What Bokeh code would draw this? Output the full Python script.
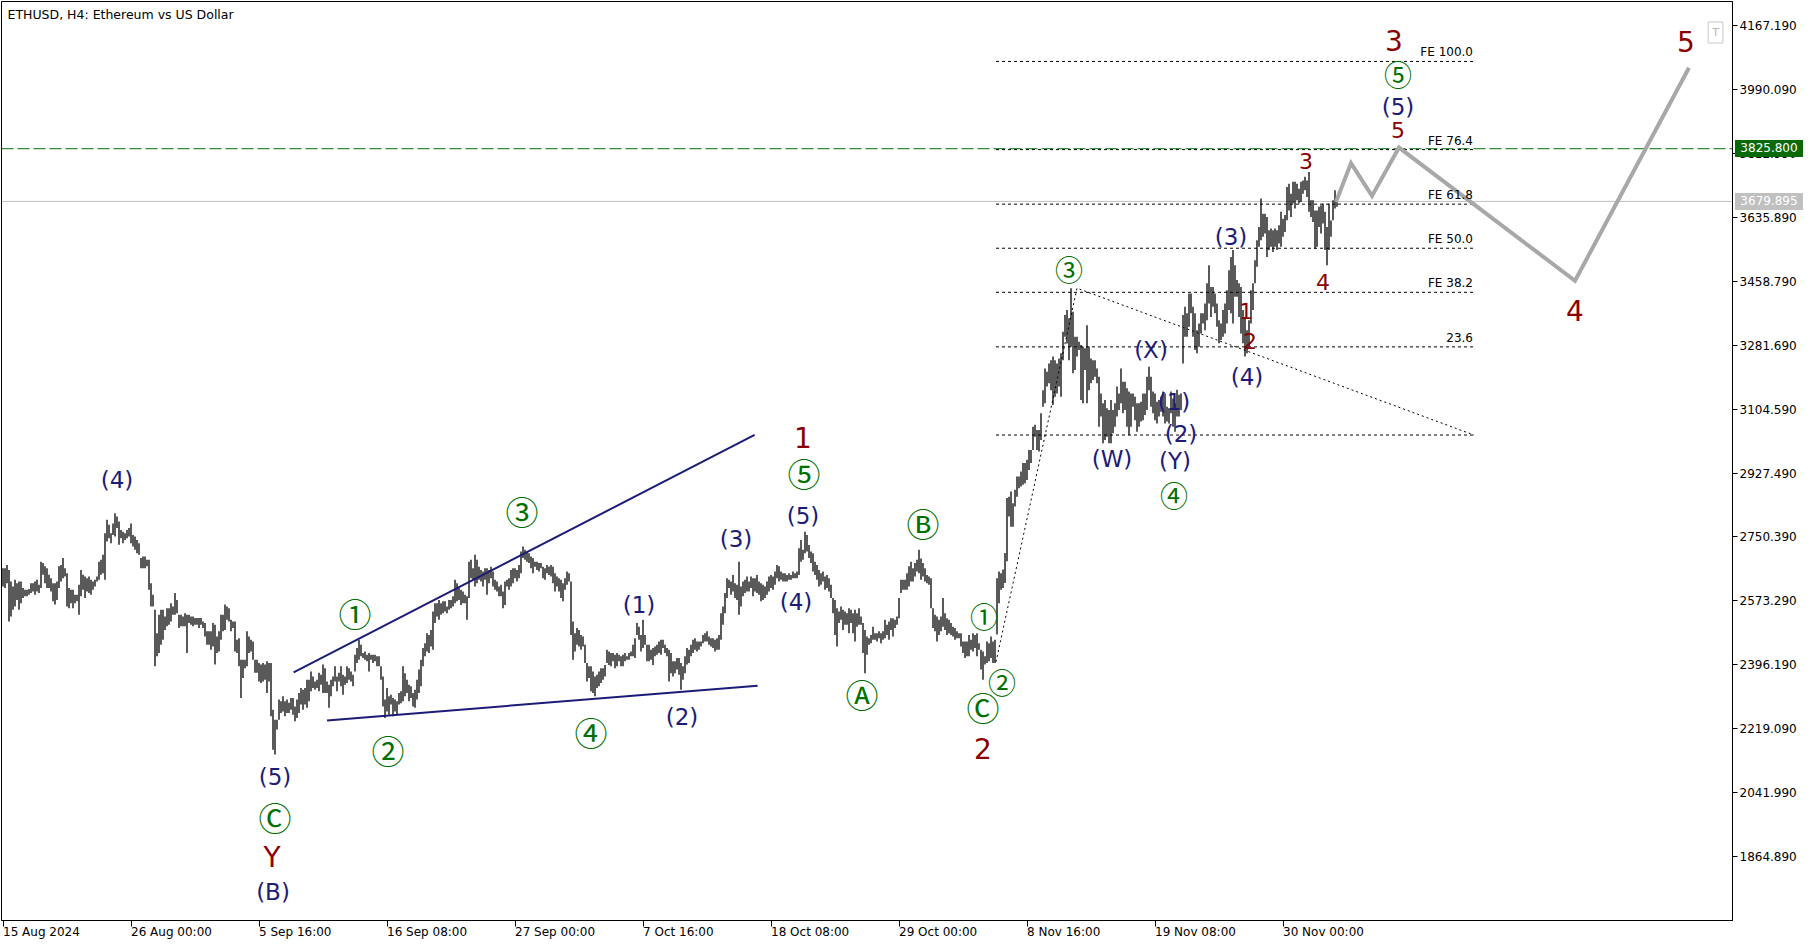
from bokeh.plotting import figure
from bokeh.models import (Range1d, FixedTicker, PrintfTickFormatter, Span, Label, LabelSet,
                          ColumnDataSource, Div)
from bokeh.layouts import column
from bokeh.core.properties import value
from bokeh.embed import file_html
from bokeh.resources import INLINE

# ---------------- data (ETHUSD H4) ----------------
title_text = "ETHUSD, H4:  Ethereum vs US Dollar"

bar_high = [
    2664,2664,2673,2659,2627,2613,2632,2622,2627,2627,
    2609,2604,2604,2606,2622,2622,2627,2632,2618,2682,
    2678,2669,2664,2646,2636,2622,2622,2627,2669,2673,
    2692,2664,2650,2609,2604,2604,2590,2590,2618,2659,
    2646,2641,2636,2641,2632,2627,2632,2641,2682,2687,
    2701,2761,2798,2784,2761,2788,2816,2807,2793,2770,
    2765,2761,2770,2775,2788,2756,2752,2742,2733,2692,
    2696,2696,2687,2687,2622,2590,2549,2484,2535,2549,
    2549,2530,2553,2553,2567,2558,2595,2576,2535,2535,
    2530,2539,2535,2535,2530,2530,2526,2526,2526,2526,
    2516,2512,2489,2489,2489,2512,2507,2475,2489,2535,
    2535,2563,2558,2553,2521,2516,2516,2466,2470,2410,
    2410,2410,2489,2475,2466,2461,2410,2410,2401,2397,
    2401,2397,2406,2401,2401,2272,2244,2244,2300,2295,
    2309,2295,2300,2291,2304,2304,2281,2300,2318,2332,
    2327,2332,2355,2355,2378,2364,2350,2355,2374,2369,
    2397,2387,2350,2341,2355,2364,2392,2364,2374,
    2392,2369,2364,2392,2387,2378,2369,2424,2443,2466,
    2452,2429,2433,2424,2429,2424,2424,2424,2420,2420,
    2392,2364,2300,2332,2309,2313,2304,2300,2295,2318,
    2323,2392,2373,2355,2341,2337,2318,2327,2355,2383,
    2410,2443,2456,2484,2479,2493,2544,2567,2567,2576,
    2567,2572,2572,2558,2576,2576,2586,2632,2622,2609,
    2604,2599,2590,2586,2682,2687,2664,2701,2687,2668,
    2659,2655,2664,2664,2659,2668,2655,2632,2627,2613,
    2618,2599,2627,2632,2636,2659,2664,2664,2659,2673,
    2710,2724,2715,2710,2705,2696,2692,2682,2682,2678,
    2678,2668,2664,2673,2668,2673,2668,2650,2641,2636,
    2632,2622,2636,2655,2650,2627,2516,2484,2498,2493,
    2479,2475,2452,2401,2392,2392,2378,2364,2369,2378,
    2387,2387,2396,2438,2433,2429,2429,2424,2429,2424,
    2420,2424,2429,2420,2429,2433,2452,2470,2512,2502,
    2479,2521,2479,2452,2452,2438,2443,2447,2452,2461,
    2466,2466,2452,2443,2438,
    2429,2406,2406,2415,2415,2401,2392,2420,2443,2438,
    2452,2466,2470,2461,2461,2461,2479,2484,2489,2475,
    2470,2470,2466,2470,2479,2539,2558,2595,2636,2632,
    2627,2645,2622,2618,2682,2613,2627,2632,2641,2627,
    2641,2636,2636,2645,2627,2622,2618,2613,2627,2641,
    2645,2641,2655,2673,2669,2655,2650,2650,2645,2650,
    2645,2655,2650,2655,2719,2742,2715,2765,2756,2728,
    2710,2705,2682,2673,2659,2650,2655,2641,2645,2636,
    2618,2581,2576,2553,2544,2558,2549,2544,2539,2553,
    2549,2539,2549,2539,2553,2530,2512,2493,2475,2470,
    2479,2502,2484,2484,2489,2484,2489,2521,2507,2516,
    2525,2525,2521,2530,2581,2632,2632,2632,2650,2669,
    2682,2664,2678,2687,2715,2691,2678,2664,2645,2641,
    2636,2553,2535,2530,2521,2530,2581,2539,2525,2521,
    2512,2502,2498,2489,2484,2484,2461,2461,2461,2479,
    2466,2484,2479,2484,2456,2438,2433,2420,2461,2456,
    2475,2461,2466,
    2636,2655,2650,2660,2706,2858,2862,2876,2844,2881,
    2918,2918,2932,2955,2955,2964,2991,2991,3056,3061,
    3047,3047,3093,3157,3217,3208,3231,3240,3250,3240,
    3231,3245,3259,3319,3365,3379,3356,3439,3374,3305,
    3305,3291,3282,3277,3273,3337,3277,3245,3240,3240,
    3217,3194,3148,3121,3130,3107,3102,3130,3102,3121,
    3167,3148,3217,3180,3180,3162,3153,3148,3148,3139,
    3121,3121,3125,3148,3148,3194,3222,3194,3153,3148,
    3125,3130,3139,3153,3148,3111,3107,
    3153,3134,3121,3158,3144,3148,3365,3388,3370,3425,
    3425,3388,3370,3323,3342,3370,3370,3397,3453,3503,
    3443,3443,3425,3397,3351,3342,3379,3397,3434,3489,
    3526,3545,3503,3462,3453,3443,3379,3360,3323,3351,
    3434,3453,3517,3572,3609,3688,3646,3646,3637,3600,
    3605,3600,3605,3600,3614,3651,3632,3642,3720,3729,
    3701,3734,3734,3729,3715,3734,3738,3748,3738,3761,
    3683,3683,3655,3655,3665,3669,3674,3651,3609,3674,
    3627,3683,3711,3692,
]

bar_low = [
    2613,2609,2622,2516,2530,2549,2558,2576,2549,2567,
    2581,2586,2586,2590,2595,2599,2590,2599,2595,2609,
    2646,2622,2609,2609,2599,2572,2563,2576,2609,2627,
    2636,2641,2558,2553,2567,2553,2567,2572,2535,2586,
    2604,2581,2599,2595,2590,2604,2613,2627,2632,2646,
    2650,2632,2738,2747,2733,2756,2752,2775,2729,2747,
    2733,2742,2747,2752,2733,2724,2715,2705,2701,2664,
    2664,2664,2669,2604,2558,2558,2392,2420,2429,2452,
    2466,2493,2503,2507,2516,2535,2535,2539,2498,2503,
    2503,2503,2429,2512,2507,2503,2507,2507,2498,2507,
    2498,2475,2452,2452,2438,2447,2397,2429,2433,2466,
    2489,2493,2521,2516,2489,2498,2433,2429,2392,2304,
    2360,2387,2392,2429,2433,2410,2374,2374,2350,2346,
    2350,2355,2318,2350,2254,2161,2148,2217,2244,2263,
    2267,2254,2263,2263,2272,2258,2240,2249,2263,2286,
    2272,2286,2277,2295,2323,2332,2327,2332,2323,2341,
    2318,2318,2318,2277,2309,2337,2350,2323,2350,
    2337,2313,2341,2346,2355,2350,2337,2378,2401,2410,
    2420,2415,2410,2406,2378,2410,2401,2406,2392,2392,
    2355,2281,2249,2267,2258,2286,2254,2267,2258,2286,
    2290,2295,2309,2318,2295,2304,2281,2277,2300,2318,
    2337,2392,2420,2433,2429,2447,2438,2512,2530,2521,
    2535,2539,2544,2539,2549,2553,2558,2567,2572,2576,
    2562,2567,2567,2521,2581,2636,2632,2613,2622,2632,
    2627,2613,2632,2590,2622,2636,2613,2604,2599,2586,
    2586,2553,2562,2613,2604,2613,2622,2636,2627,2636,
    2650,2692,2687,2682,2678,2664,2650,2668,2659,2655,
    2664,2636,2632,2650,2645,2641,2622,2599,2613,2599,
    2581,2572,2604,2618,2627,2479,2410,2433,2452,2447,
    2438,2447,2401,2350,2360,2323,2318,2309,2332,2337,
    2346,2355,2364,2401,2396,2392,2406,2387,2392,2406,
    2392,2392,2406,2410,2410,2420,2420,2415,2479,2466,
    2433,2443,2452,2406,2406,2410,2396,2420,2424,2429,
    2424,2443,2429,2420,2350,
    2373,2364,2373,2383,2369,2327,2355,2373,2397,2401,
    2420,2429,2438,2433,2438,2447,2456,2461,2461,2452,
    2447,2443,2433,2438,2438,2466,2507,2539,2581,2609,
    2590,2599,2581,2576,2535,2558,2586,2595,2599,2599,
    2609,2586,2599,2595,2590,2572,2576,2581,2590,2599,
    2609,2604,2618,2636,2627,2632,2627,2627,2627,2632,
    2632,2636,2636,2636,2645,2682,2687,2705,2710,2692,
    2678,2655,2645,2632,2613,2618,2627,2604,2609,2599,
    2581,2539,2479,2447,2512,2521,2493,2507,2507,2484,
    2512,2484,2461,2502,2507,2507,2429,2373,2424,2452,
    2456,2466,2466,2461,2470,2456,2466,2470,2479,2466,
    2493,2475,2498,2507,2525,2595,2604,2604,2604,2613,
    2627,2627,2641,2655,2650,2632,2641,2627,2622,2618,
    2553,2498,2489,2461,2479,2489,2502,2493,2479,2484,
    2479,2475,2466,2470,2470,2447,2429,2415,2420,2420,
    2438,2433,2443,2420,2438,2383,2355,2397,2401,2406,
    2415,2401,2401,
    2480,2567,2604,2609,2623,2683,2807,2779,2779,2835,
    2862,2885,2890,2895,2899,2908,2936,2955,2991,3028,
    2991,2987,3019,3111,3121,3167,3176,3157,3116,3139,
    3148,3167,3139,3240,3305,3286,3240,3277,3204,3213,
    3250,3268,3130,3121,3213,3121,3157,3176,3185,3194,
    3176,3056,3084,3010,3019,3028,3010,3010,3038,3056,
    3084,3102,3121,3093,3102,3056,3033,3056,3111,3074,
    3042,3056,3070,3074,3088,3102,3157,3111,3093,3074,
    3065,3084,3097,3084,3065,3070,3065,
    3093,3056,3042,3084,3084,3102,3231,3305,3305,3333,
    3370,3305,3268,3259,3277,3314,3342,3323,3351,3397,
    3360,3388,3370,3333,3287,3296,3305,3314,3342,3379,
    3370,3342,3416,3416,3360,3314,3287,3250,3259,3277,
    3342,3379,3453,3499,3554,3572,3582,3591,3526,3545,
    3554,3540,3554,3545,3563,3554,3582,3595,3628,3655,
    3637,3674,3660,3683,3674,3678,3701,3711,3692,3651,
    3637,3623,3549,3554,3609,3591,3619,3545,3503,3545,
    3582,3628,3660,3665,
]

date_tick_bars = [0, 64, 128, 192, 256, 320, 384, 448, 512, 576, 640]
date_tick_labels = ["15 Aug 2024", "26 Aug 00:00", "5 Sep 16:00", "16 Sep 08:00", "27 Sep 00:00",
                    "7 Oct 16:00", "18 Oct 08:00", "29 Oct 00:00", "8 Nov 16:00", "19 Nov 08:00",
                    "30 Nov 00:00"]
price_ticks = [1864.89, 2041.99, 2219.09, 2396.19, 2573.29, 2750.39, 2927.49,
               3104.59, 3281.69, 3458.79, 3635.89, 3812.99, 3990.09, 4167.19]

target_price = 3825.800
last_price = 3679.895

# Fibonacci expansion anchors (wave 2 low, wave 3 high, wave 4 low)
fe_bar = [496.5, 537.0, 735.5]
fe_price = [2404.6, 3439.5, 3032.7]
fe_levels = [0.0, 23.6, 38.2, 50.0, 61.8, 76.4, 100.0]
fe_texts = ["", "23.6", "FE 38.2", "FE 50.0", "FE 61.8", "FE 76.4", "FE 100.0"]

# wedge (diagonal) lines
upper_bar = [145.3, 375.8]
upper_price = [2375.0, 3033.3]
lower_bar = [162.0, 377.3]
lower_price = [2242.2, 2338.2]

# forecast path
forecast_bar = [666.5, 674.0, 684.5, 698.0, 786.0, 843.0]
forecast_price = [3678.0, 3786.0, 3695.0, 3829.0, 3460.0, 4050.0]

# wave labels
navy_text = ["(4)", "(5)", "(B)", "(1)", "(2)", "(3)", "(4)", "(5)", "(W)", "(X)",
             "(1)", "(2)", "(Y)", "(3)", "(4)", "(5)"]
navy_bar = [57, 136, 135, 318, 339.5, 366.5, 396.5, 400, 554.5, 574, 585.5, 589, 586, 614, 622, 697.5]
navy_price = [2908, 2086, 1768, 2562, 2252, 2745, 2571, 2809, 2966, 3268, 3124, 3036, 2961, 3581, 3193, 3940]

green_big_text = ["Ⓒ", "①", "②", "③", "④", "⑤", "Ⓑ", "Ⓐ", "Ⓒ"]
green_big_bar = [136, 176, 192.5, 259.5, 294, 400.5, 460, 429.5, 490]
green_big_price = [1976, 2540, 2161, 2822, 2211, 2928, 2789, 2316, 2280]

green_small_text = ["①", "②", "③", "④", "⑤"]
green_small_bar = [490.5, 499.5, 533, 585.5, 697.5]
green_small_price = [2532, 2349, 3492, 2867, 4034]

red_big_text = ["Y", "1", "2", "3", "4", "5"]
red_big_bar = [134.5, 400, 490, 695.5, 786, 841.5]
red_big_price = [1862, 3027, 2164, 4126, 3379, 4123]

red_small_text = ["1", "2", "3", "4", "5"]
red_small_bar = [621.5, 623.5, 651.5, 660, 697.5]
red_small_price = [3376, 3293, 3791, 3456, 3877]

# ---------------- styling ----------------
NAVY = "#1c1c78"
RED = "#8b0000"
GREEN = "#007000"
FONT = "DejaVu Sans"

W, H = 1818, 948
BORDER_L, BORDER_T, BORDER_R, BORDER_B = 1, 1, 86, 27
X0, X1 = -0.75, 864.75
Y0, Y1 = 1688.0, 4233.6

p = figure(width=W, height=H, x_range=Range1d(X0, X1), y_range=Range1d(Y0, Y1),
           y_axis_location="right", output_backend="svg", toolbar_location=None,
           min_border_left=BORDER_L, min_border_top=BORDER_T, min_border_right=BORDER_R,
           min_border_bottom=BORDER_B,
           background_fill_color="white", border_fill_color="white",
           outline_line_color="black", outline_line_width=1)
p.grid.visible = False

# axes
p.yaxis.ticker = FixedTicker(ticks=price_ticks, minor_ticks=[])
p.yaxis.formatter = PrintfTickFormatter(format="%.3f")
p.yaxis.major_tick_out = 5
p.yaxis.major_tick_in = 0
p.yaxis.minor_tick_line_color = None
p.yaxis.major_label_standoff = 2
p.yaxis.major_label_text_font = FONT
p.yaxis.major_label_text_font_size = "12px"
p.yaxis.major_label_text_color = "black"
p.yaxis.axis_line_color = "black"
p.yaxis.major_tick_line_color = "black"

p.xaxis.ticker = FixedTicker(ticks=date_tick_bars, minor_ticks=[])
p.xaxis.major_label_overrides = dict(zip(date_tick_bars, date_tick_labels))
p.xaxis.major_label_orientation = -1e-6   # left-aligned labels starting at the tick
p.xaxis.major_tick_out = 6
p.xaxis.major_tick_in = 0
p.xaxis.major_label_standoff = 5
p.xaxis.minor_tick_line_color = None
p.xaxis.axis_line_color = "black"
p.xaxis.major_tick_line_color = "black"
p.xaxis.major_label_text_font = FONT
p.xaxis.major_label_text_font_size = "12px"
p.xaxis.major_label_text_color = "black"

# horizontal lines
p.add_layout(Span(location=last_price, dimension="width", line_color="#c0c0c0", line_width=1, level="underlay"))
p.add_layout(Span(location=target_price, dimension="width", line_color=GREEN, line_width=1,
                  line_dash="12 4", level="underlay"))

# Fibonacci expansion
rng = fe_price[1] - fe_price[0]
lvl_prices = [fe_price[2] + lv / 100.0 * rng for lv in fe_levels]
p.segment(x0=[fe_bar[0]] * len(lvl_prices), y0=lvl_prices, x1=[fe_bar[2]] * len(lvl_prices), y1=lvl_prices,
          line_color="black", line_width=1, line_dash="3 3")
p.line(x=fe_bar, y=fe_price, line_color="black", line_width=1, line_dash="2 3")
lab_idx = [i for i, t in enumerate(fe_texts) if t]
fe_src = ColumnDataSource(dict(x=[fe_bar[2]] * len(lab_idx), y=[lvl_prices[i] for i in lab_idx],
                               t=[fe_texts[i] for i in lab_idx]))
p.add_layout(LabelSet(x="x", y="y", text="t", source=fe_src, text_align="right", text_baseline="alphabetic",
                      y_offset=5, x_offset=-1, text_font=value(FONT), text_font_size=value("12px"),
                      text_color="black"))

# price bars
n = min(len(bar_high), len(bar_low))
bars = list(range(n))
p.segment(x0=bars, y0=bar_low[:n], x1=bars, y1=bar_high[:n], line_color="black", line_width=1.3)

# wedge lines
p.line(x=upper_bar, y=upper_price, line_color=NAVY, line_width=2)
p.line(x=lower_bar, y=lower_price, line_color=NAVY, line_width=2)

# forecast
p.line(x=forecast_bar, y=forecast_price, line_color="#a8a8a8", line_width=4, line_join="miter")

# wave labels
p.text(x=navy_bar, y=navy_price, text=navy_text, text_color=NAVY, text_font=value(FONT),
       text_font_size="23px", text_align="center", text_baseline="middle")
p.text(x=green_big_bar, y=green_big_price, text=green_big_text, text_color=GREEN,
       text_font=value("Noto Sans CJK JP"), text_font_size="33px", text_align="center", text_baseline="middle")
p.text(x=green_small_bar, y=green_small_price, text=green_small_text, text_color=GREEN,
       text_font=value("Noto Sans CJK JP"), text_font_size="28px", text_align="center", text_baseline="middle")
p.text(x=red_big_bar, y=red_big_price, text=red_big_text, text_color=RED, text_font=value(FONT),
       text_font_size="28px", text_align="center", text_baseline="middle")
p.text(x=red_small_bar, y=red_small_price, text=red_small_text, text_color=RED, text_font=value(FONT),
       text_font_size="22px", text_align="center", text_baseline="middle")

# title
p.add_layout(Label(x=X0, y=Y1, x_offset=6, y_offset=-5, text=title_text, text_align="left",
                   text_baseline="top", text_font=FONT, text_font_size="12.5px", text_color="black"))

# small "T" button
p.add_layout(Label(x=X1, y=Y1, x_offset=-17, y_offset=-31, text="T", text_align="center",
                   text_baseline="middle", text_font=FONT, text_font_size="11px", text_color="#b8b8b8",
                   border_line_color="#c8c8c8", padding=4))

# price boxes on the price scale (drawn over the axis, outside the plot frame)
frame_h = H - BORDER_T - BORDER_B
axis_x = W - BORDER_R


def price_to_py(v):
    return BORDER_T + (Y1 - v) * frame_h / (Y1 - Y0)


boxes = ""
for val, bg in [(target_price, "#0a6a0a"), (last_price, "#c0c0c0")]:
    top = price_to_py(val) - 8.5
    boxes += ('<div style="position:absolute;left:%dpx;top:%.1fpx;width:68px;height:17px;'
              'line-height:17px;background:%s;color:white;font-family:\'DejaVu Sans\';font-size:12px;'
              'text-align:center;white-space:nowrap;">%.3f</div>') % (axis_x + 3, top, bg, val)

overlay = Div(text=boxes, width=0, height=0, margin=0,
              styles={"position": "absolute", "left": "0px", "top": "0px", "z-index": "5",
                      "overflow": "visible", "pointer-events": "none"})

layout = column(p, overlay, spacing=0)
open("out.html", "w").write(file_html(layout, INLINE))
